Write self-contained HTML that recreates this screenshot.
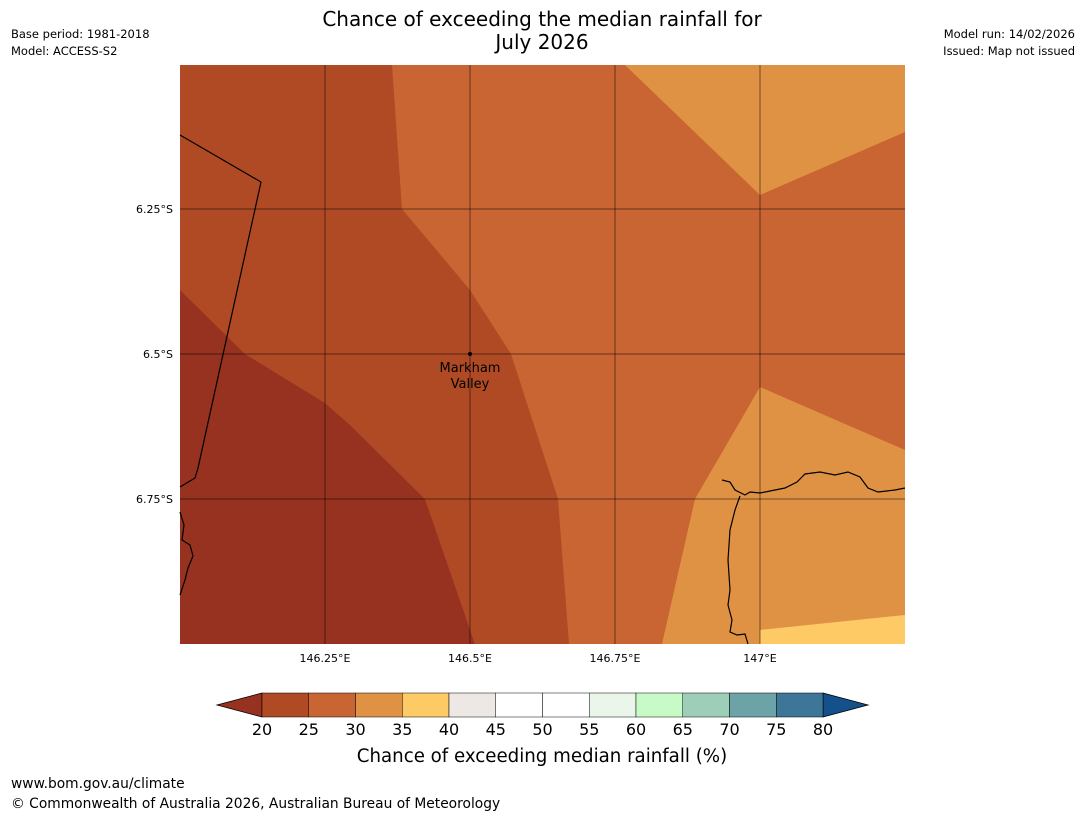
<!DOCTYPE html>
<html><head><meta charset="utf-8"><style>
body{margin:0;background:#fff;font-family:"Liberation Sans","DejaVu Sans",sans-serif;}
svg text{font-family:"DejaVu Sans","Liberation Sans",sans-serif;}
</style></head><body>
<svg width="1085" height="816" xmlns="http://www.w3.org/2000/svg">
<text x="542" y="26" font-size="20" text-anchor="middle">Chance of exceeding the median rainfall for</text>
<text x="542" y="49" font-size="20" text-anchor="middle">July 2026</text>
<text x="11" y="38" font-size="11.5">Base period: 1981-2018</text>
<text x="11" y="55" font-size="11.5">Model: ACCESS-S2</text>
<text x="1075" y="38" font-size="11.5" text-anchor="end">Model run: 14/02/2026</text>
<text x="1075" y="55" font-size="11.5" text-anchor="end">Issued: Map not issued</text>
<g id="map">
<rect x="180" y="65" width="725" height="579" fill="#c96532"/>
<polygon points="625,65 905,65 905,132 760,195" fill="#e09244"/>
<polygon points="905,450 760,387 695,499 662,644 905,644" fill="#e09244"/>
<polygon points="760,630 905,615 905,644 760,644" fill="#fdca66"/>
<polygon points="180,65 392,65 402,209 470,290 511,354 558,499 569,644 475,644 425,499 350,425 325,403 245,354 180,290" fill="#b04a24"/>
<polygon points="180,290 245,354 325,403 350,425 425,499 475,644 180,644" fill="#96321f"/>
<g stroke="#000" stroke-opacity="0.5" stroke-width="1">
<line x1="325" y1="65" x2="325" y2="644"/><line x1="470" y1="65" x2="470" y2="644"/>
<line x1="615" y1="65" x2="615" y2="644"/><line x1="760" y1="65" x2="760" y2="644"/>
<line x1="180" y1="209" x2="905" y2="209"/><line x1="180" y1="354" x2="905" y2="354"/>
<line x1="180" y1="499" x2="905" y2="499"/>
</g>
<polyline points="180,135 261,182 198,468 195,478 180,487" fill="none" stroke="#000" stroke-width="1.2"/>
<polyline points="180,512 184,525 182,540 190,545 193,556 188,568 185,580 180,595" fill="none" stroke="#000" stroke-width="1.2"/>
<polyline points="722,480 730,482 735,490 745,495 750,492 760,493 770,491 785,488 797,482 805,474 820,472 835,475 848,472 860,477 868,488 878,492 895,490 905,488" fill="none" stroke="#000" stroke-width="1.2"/>
<polyline points="740,496 735,510 730,530 728,560 730,590 728,605 732,620 730,632 737,635 745,634 748,644" fill="none" stroke="#000" stroke-width="1.2"/>
<circle cx="470" cy="354" r="2" fill="#000"/>
<text x="470" y="372" font-size="13" text-anchor="middle">Markham</text>
<text x="470" y="388" font-size="13" text-anchor="middle">Valley</text>
</g>
<g font-size="11">
<text x="173" y="213" text-anchor="end">6.25°S</text>
<text x="173" y="358" text-anchor="end">6.5°S</text>
<text x="173" y="503" text-anchor="end">6.75°S</text>
<text x="325" y="662" text-anchor="middle">146.25°E</text>
<text x="470" y="662" text-anchor="middle">146.5°E</text>
<text x="615" y="662" text-anchor="middle">146.75°E</text>
<text x="760" y="662" text-anchor="middle">147°E</text>
</g>
<g id="cbar"></g>
<text x="542" y="762" font-size="18.2" text-anchor="middle">Chance of exceeding median rainfall (%)</text>
<text x="11" y="788" font-size="13.8">www.bom.gov.au/climate</text>
<text x="11" y="808" font-size="13.8">© Commonwealth of Australia 2026, Australian Bureau of Meteorology</text>
</svg>
<script>
const tickLabels=[20,25,30,35,40,45,50,55,60,65,70,75,80];
const binColors=["#b04a24","#c96532","#e09244","#fdca66","#ede8e3","#ffffff","#ffffff","#eaf6e9","#c8fac8","#9dcfb8","#6ca3a6","#3e7698"];
const underColor="#96321f", overColor="#14508a";
const NS="http://www.w3.org/2000/svg";
const g=document.getElementById('cbar');
const x0=262,x1=823,y0=693,y1=717;
const sx=v=>x0+(v-tickLabels[0])/(tickLabels[tickLabels.length-1]-tickLabels[0])*(x1-x0);
function mk(t,a){const e=document.createElementNS(NS,t);for(const k in a)e.setAttribute(k,a[k]);g.appendChild(e);return e;}
let p=mk('polygon',{points:`${x0},${y0} ${x0},${y1} 217,${(y0+y1)/2}`,fill:underColor,stroke:'#000','stroke-width':0.8});


p=mk('polygon',{points:`${x1},${y0} ${x1},${y1} 868,${(y0+y1)/2}`,fill:overColor,stroke:'#000','stroke-width':0.8});


binColors.forEach((c,i)=>{
 const a=sx(tickLabels[i]),b=sx(tickLabels[i+1]);
 const r=mk('rect',{x:a,y:y0,width:b-a,height:y1-y0,fill:c,stroke:'#000','stroke-width':0.5});
 
 
});
tickLabels.forEach(v=>{
 const t=mk('text',{x:sx(v),y:735,'font-size':16,'text-anchor':'middle'});
 t.textContent=v;
 
 
});
</script>
</body></html>
